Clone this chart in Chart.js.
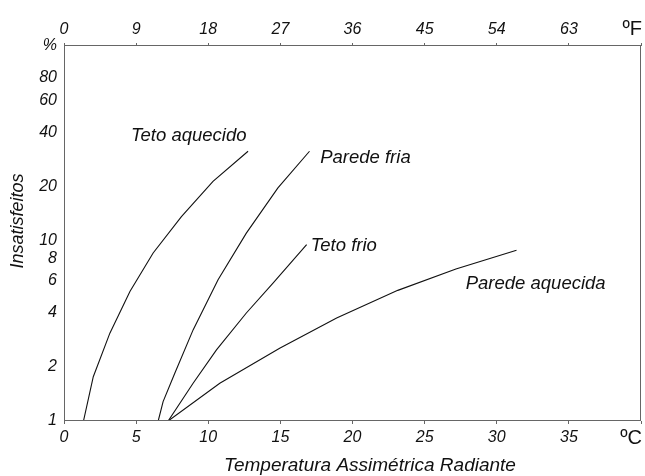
<!DOCTYPE html>
<html>
<head>
<meta charset="utf-8">
<script src="https://cdn.jsdelivr.net/npm/chart.js@4.4.1/dist/chart.umd.min.js"></script>
<style>
  html, body { margin: 0; padding: 0; background: #fff; }
  #wrap { width: 645px; height: 476px; }
</style>
</head>
<body>
<div id="wrap"><canvas id="chart" width="645" height="476"></canvas></div>
<script>
// Percent dissatisfied vs radiant temperature asymmetry (log scale on y)
const tetoAquecidoC   = [1.35, 2.03, 3.18, 4.57, 6.18, 8.14, 10.33, 12.76];
const tetoAquecidoPct = [1, 1.76, 3.07, 5.23, 8.54, 13.6, 21.3, 31.3];

const paredeFriaC   = [6.53, 6.87, 7.68, 8.95, 10.68, 12.64, 14.83, 17.02];
const paredeFriaPct = [1, 1.28, 1.84, 3.2, 6.07, 11.0, 19.6, 31.3];

const tetoFrioC   = [7.22, 8.95, 10.57, 12.64, 14.49, 16.82];
const tetoFrioPct = [1, 1.62, 2.48, 3.97, 5.82, 9.5];

const paredeAquecidaC   = [7.22, 10.8, 14.95, 18.9, 23.14, 27.17, 31.37];
const paredeAquecidaPct = [1, 1.62, 2.53, 3.72, 5.3, 6.96, 8.84];

// curve captions and where they sit (ºC, %)
const curveNames = ['Teto aquecido', 'Parede fria', 'Teto frio', 'Parede aquecida'];
const labelC     = [4.64, 17.76, 17.1, 27.85];
const labelPct   = [38.3, 28.9, 9.4, 5.77];

// axis ticks
const cTicks  = [0, 5, 10, 15, 20, 25, 30, 35, 40];
const cLabels = ['0', '5', '10', '15', '20', '25', '30', '35', ''];
const fTicks  = [0, 9, 18, 27, 36, 45, 54, 63, 72];
const fLabels = ['0', '9', '18', '27', '36', '45', '54', '63', ''];
const yTicks  = [1, 2, 4, 6, 8, 10, 20, 40, 60, 80, 120];
const yLabels = ['1', '2', '4', '6', '8', '10', '20', '40', '60', '80', '%'];

const FONT = '"Liberation Sans", Arial, sans-serif';
const INK = '#111';
const FRAME = '#666';

Chart.defaults.font.family = FONT;
Chart.defaults.color = INK;

function points(xs, ys) {
    return xs.map((x, i) => ({ x: x, y: ys[i] }));
}

function curve(xs, ys) {
    return {
        data: points(xs, ys),
        borderColor: INK,
        borderWidth: 1.1,
        pointRadius: 0,
        tension: 0,
        fill: false
    };
}

const tickFont = { family: FONT, size: 16, style: 'italic' };

// box around the plot plus all free-standing text
const annotations = {
    id: 'annotations',
    afterDraw(chart) {
        const ctx = chart.ctx;
        const a = chart.chartArea;
        const xs = chart.scales.x;
        const ys = chart.scales.y;

        ctx.save();
        ctx.strokeStyle = FRAME;
        ctx.lineWidth = 1;
        ctx.strokeRect(a.left + 0.5, a.top - 0.5, a.right - a.left - 1, a.bottom - a.top);

        ctx.fillStyle = INK;
        ctx.font = 'italic 18.5px ' + FONT;
        ctx.textAlign = 'left';
        ctx.textBaseline = 'middle';
        curveNames.forEach((name, i) => {
            ctx.fillText(name, xs.getPixelForValue(labelC[i]), ys.getPixelForValue(labelPct[i]));
        });

        // unit marks at the right end of both temperature axes
        ctx.font = '20px ' + FONT;
        ctx.textAlign = 'right';
        ctx.fillText('ºF', a.right + 1, 29);
        ctx.fillText('ºC', a.right + 1, 438);

        ctx.font = 'italic 19px ' + FONT;
        ctx.textAlign = 'center';
        ctx.fillText('Temperatura Assimétrica Radiante', 370, 466);

        ctx.translate(18, 221);
        ctx.rotate(-Math.PI / 2);
        ctx.font = 'italic 18px ' + FONT;
        ctx.fillText('Insatisfeitos', 0, 0);
        ctx.restore();
    }
};

new Chart(document.getElementById('chart').getContext('2d'), {
    type: 'line',
    data: {
        datasets: [
            curve(tetoAquecidoC, tetoAquecidoPct),
            curve(paredeFriaC, paredeFriaPct),
            curve(tetoFrioC, tetoFrioPct),
            curve(paredeAquecidaC, paredeAquecidaPct)
        ]
    },
    options: {
        responsive: false,
        animation: false,
        devicePixelRatio: 1,
        layout: { padding: { left: 0, right: 2, top: 0, bottom: 0 } },
        plugins: {
            legend: { display: false },
            tooltip: { enabled: false }
        },
        scales: {
            x: {
                type: 'linear',
                position: 'bottom',
                min: 0,
                max: 40,
                afterBuildTicks: s => { s.ticks = cTicks.map(v => ({ value: v })); },
                afterFit: s => { s.height = 55; },
                ticks: {
                    autoSkip: false,
                    maxRotation: 0,
                    padding: 4,
                    font: tickFont,
                    color: INK,
                    callback: v => cLabels[cTicks.indexOf(v)]
                },
                grid: { drawOnChartArea: false, drawTicks: true, tickLength: 3, color: FRAME },
                border: { display: false }
            },
            x2: {
                type: 'linear',
                position: 'top',
                min: 0,
                max: 72,
                afterBuildTicks: s => { s.ticks = fTicks.map(v => ({ value: v })); },
                afterFit: s => { s.height = 46; },
                ticks: {
                    autoSkip: false,
                    maxRotation: 0,
                    padding: 4,
                    font: tickFont,
                    color: INK,
                    callback: v => fLabels[fTicks.indexOf(v)]
                },
                grid: { drawOnChartArea: false, drawTicks: true, tickLength: 3, color: FRAME },
                border: { display: false }
            },
            y: {
                type: 'logarithmic',
                min: 1,
                max: 120,
                afterBuildTicks: s => { s.ticks = yTicks.map(v => ({ value: v })); },
                afterFit: s => { s.width = 64; },
                ticks: {
                    autoSkip: false,
                    padding: 7,
                    font: tickFont,
                    color: INK,
                    callback: v => yLabels[yTicks.indexOf(v)]
                },
                grid: { display: false, drawTicks: false },
                border: { display: false }
            }
        }
    },
    plugins: [annotations]
});
</script>
</body>
</html>
